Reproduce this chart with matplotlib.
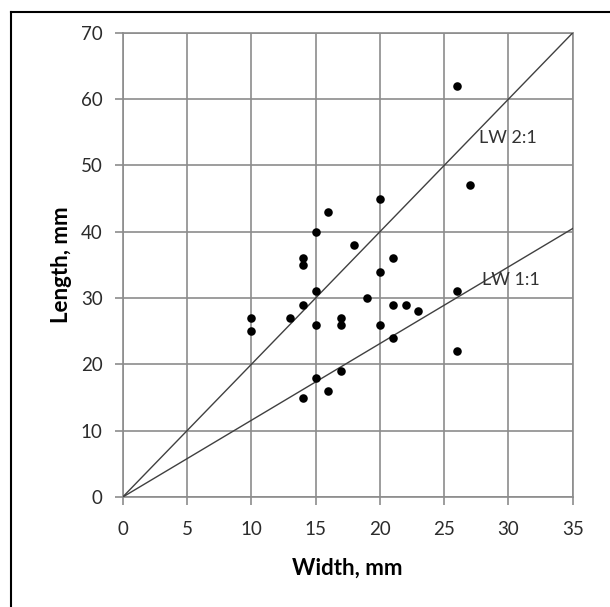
import matplotlib
matplotlib.use('Agg')
from matplotlib import pyplot as plt
from matplotlib.lines import Line2D

plt.rcParams['font.family'] = ['Lato', 'DejaVu Sans']

# measured specimens
width = [10, 10, 13, 14, 14, 14, 14, 15, 15, 15, 15, 16, 16, 17, 17, 17, 18, 19,
         20, 20, 20, 21, 21, 21, 22, 23, 26, 26, 26, 27]
length = [27, 25, 27, 36, 35, 29, 15, 40, 31, 26, 18, 43, 16, 27, 26, 19, 38, 30,
          45, 34, 26, 36, 29, 24, 29, 28, 62, 31, 22, 47]

# reference lines (drawn from origin)
line_x = [0, 35]
lw21_y = [0, 70]
lw11_y = [0, 40.5]

grid_col = '#8c8c8c'

fig = plt.figure(figsize=(6.10, 6.07), dpi=100)
ax = fig.add_axes([0.201, 0.181, 0.738, 0.765])

ax.plot(line_x, lw21_y, color='#404040', lw=1.0, zorder=3)
ax.plot(line_x, lw11_y, color='#404040', lw=1.0, zorder=3)
ax.scatter(width, length, s=38, color='black', zorder=4, linewidths=0)

ax.text(27.7, 54.1, 'LW 2:1', fontsize=13, color='#333333', va='center', ha='left')
ax.text(27.95, 32.7, 'LW 1:1', fontsize=13, color='#333333', va='center', ha='left')

ax.set_xlim(0, 35)
ax.set_ylim(0, 70)
ax.set_xticks(range(0, 36, 5))
ax.set_yticks(range(0, 71, 10))
ax.grid(True, color=grid_col, lw=1.2)
ax.set_axisbelow(True)
for s in ax.spines.values():
    s.set_color(grid_col)
    s.set_linewidth(1.2)
ax.tick_params(axis='both', colors=grid_col, length=5.5, width=1.2,
               labelcolor='#2b2b2b', labelsize=13.5)
ax.tick_params(axis='x', pad=12)
ax.tick_params(axis='y', pad=9)

ax.set_xlabel('Width, mm', fontweight='bold', fontsize=16, labelpad=14)
ax.set_ylabel('Length, mm', fontweight='bold', fontsize=16, labelpad=6)

# partial black frame around the chart (left and top edges)
fig.add_artist(Line2D([11 / 610, 11 / 610], [0, 1 - 12 / 607], transform=fig.transFigure,
                      color='black', lw=1.5))
fig.add_artist(Line2D([11 / 610, 1], [1 - 12 / 607, 1 - 12 / 607], transform=fig.transFigure,
                      color='black', lw=1.5))

plt.savefig('out.png', dpi=100)
